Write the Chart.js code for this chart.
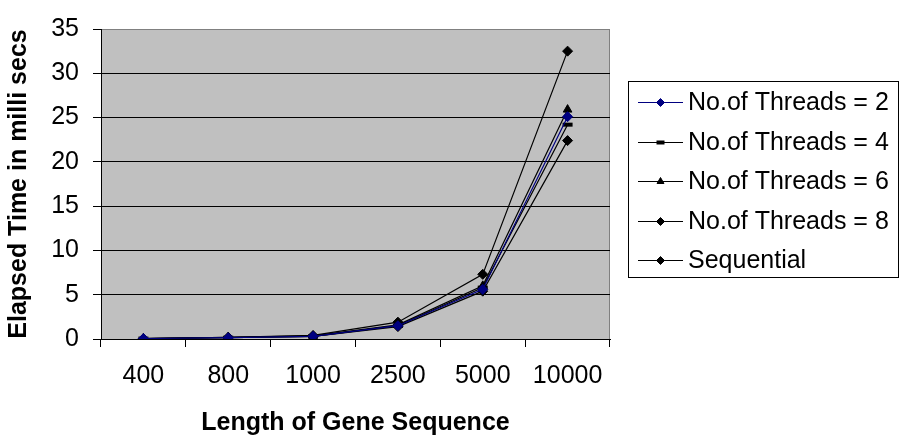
<!DOCTYPE html>
<html>
<head>
<meta charset="utf-8">
<script src="https://cdn.jsdelivr.net/npm/chart.js@4.4.1/dist/chart.umd.min.js"></script>
<style>
  html, body { margin: 0; padding: 0; background: #fff; }
  #wrap { width: 903px; height: 438px; }
</style>
</head>
<body>
<div id="wrap"><canvas id="geneChart" width="903" height="438"></canvas></div>
<script>
const categories = ['400', '800', '1000', '2500', '5000', '10000'];
const threads2 = [0.05, 0.15, 0.3, 1.5, 5.6, 25.1];
const threads4 = [0.05, 0.15, 0.3, 1.5, 5.8, 24.2];
const threads6 = [0.05, 0.2, 0.35, 1.6, 6.0, 25.9];
const threads8 = [0.05, 0.15, 0.3, 1.4, 5.4, 22.4];
const sequential = [0.05, 0.2, 0.4, 1.9, 7.3, 32.5];
const yTicks = [0, 5, 10, 15, 20, 25, 30, 35];

const FONT = '"Liberation Sans", Arial, sans-serif';

function series(label, data, color, pointStyle, extra) {
  return Object.assign({
    label: label,
    data: data,
    borderColor: color,
    backgroundColor: color,
    pointBackgroundColor: color,
    pointBorderColor: color,
    borderWidth: 1.2,
    pointStyle: pointStyle,
    pointRadius: 5,
    pointBorderWidth: 1,
    tension: 0
  }, extra || {});
}

// gray plot background with a gray frame on top/right
const plotBackground = {
  id: 'plotBackground',
  beforeDraw(chart) {
    const { ctx, chartArea: a } = chart;
    ctx.save();
    ctx.fillStyle = '#c0c0c0';
    ctx.fillRect(a.left, a.top, a.right - a.left, a.bottom - a.top);
    ctx.strokeStyle = '#808080';
    ctx.lineWidth = 1;
    ctx.strokeRect(a.left + 0.5, a.top + 0.5, a.right - a.left - 1, a.bottom - a.top);
    ctx.restore();
  }
};

// boxed legend on the right: line sample with marker, then the label
const boxLegend = {
  id: 'boxLegend',
  afterDraw(chart) {
    const ctx = chart.ctx;
    const box = { x: 628, y: 81, w: 270, h: 196 };
    ctx.save();
    ctx.strokeStyle = '#000';
    ctx.lineWidth = 1;
    ctx.strokeRect(box.x + 0.5, box.y + 0.5, box.w, box.h);
    ctx.font = '25px ' + FONT;
    ctx.textBaseline = 'middle';
    chart.data.datasets.forEach((ds, i) => {
      const y = Math.round(102 + i * 39.5) + 0.5;
      ctx.strokeStyle = ds.borderColor;
      ctx.lineWidth = 1;
      ctx.beginPath();
      ctx.moveTo(638, y);
      ctx.lineTo(683, y);
      ctx.stroke();
      ctx.fillStyle = ds.pointBackgroundColor;
      ctx.strokeStyle = ds.pointBorderColor;
      ctx.lineWidth = ds.pointBorderWidth;
      Chart.helpers.drawPoint(ctx, {
        pointStyle: ds.pointStyle,
        radius: 4,
        rotation: 0,
        borderWidth: ds.pointBorderWidth
      }, 660.5, y);
      ctx.fillStyle = '#000';
      ctx.fillText(ds.label, 688, y + 1);
    });
    ctx.restore();
  }
};

new Chart(document.getElementById('geneChart'), {
  type: 'line',
  data: {
    labels: categories,
    datasets: [
      series('No.of Threads = 2', threads2, '#000080', 'rectRot'),
      series('No.of Threads = 4', threads4, '#000000', 'line', { pointBorderWidth: 4 }),
      series('No.of Threads = 6', threads6, '#000000', 'triangle'),
      series('No.of Threads = 8', threads8, '#000000', 'rectRot'),
      series('Sequential', sequential, '#000000', 'rectRot')
    ]
  },
  options: {
    responsive: false,
    animation: false,
    layout: { padding: { left: 0, top: 16, right: 293, bottom: 0 } },
    plugins: {
      legend: { display: false },
      tooltip: { enabled: false }
    },
    scales: {
      x: {
        type: 'category',
        offset: true,
        afterFit(scale) { scale.height = 99; },
        grid: {
          offset: true,
          drawOnChartArea: false,
          drawTicks: true,
          tickLength: 8,
          color: '#000',
          tickColor: '#000'
        },
        border: { display: true, color: '#000', width: 1 },
        ticks: {
          color: '#000',
          padding: 14,
          font: { family: FONT, size: 25 }
        },
        title: {
          display: true,
          text: 'Length of Gene Sequence',
          color: '#000',
          padding: { top: 3, bottom: 0 },
          font: { family: FONT, size: 25, weight: 'bold' }
        }
      },
      y: {
        min: 0,
        max: 35,
        afterFit(scale) { scale.width = 101; },
        afterBuildTicks(scale) { scale.ticks = yTicks.map(v => ({ value: v })); },
        grid: {
          color: ctx => (ctx.tick && ctx.tick.value === 35 ? '#808080' : '#000'),
          tickColor: '#000',
          tickLength: 8,
          lineWidth: 1
        },
        border: { display: true, color: '#000', width: 1 },
        ticks: {
          color: '#000',
          padding: 14,
          font: { family: FONT, size: 25 }
        },
        title: {
          display: true,
          text: 'Elapsed Time in milli secs',
          color: '#000',
          padding: { top: 4, bottom: 0 },
          font: { family: FONT, size: 25, weight: 'bold' }
        }
      }
    }
  },
  plugins: [plotBackground, boxLegend]
});
</script>
</body>
</html>
